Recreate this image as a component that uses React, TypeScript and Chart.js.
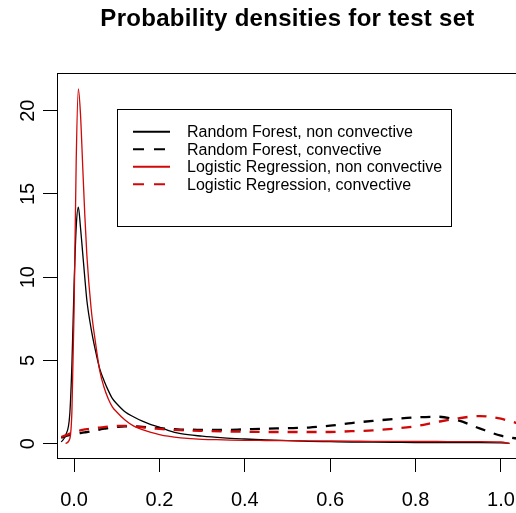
import React, { useEffect, useRef } from "react";
import { Chart, registerables } from "chart.js";

Chart.register(...registerables);

const TITLE = "Probability densities for test set";

const X_GRID = [
  -0.04, -0.03, -0.02, -0.01, -0.005, 0.0, 0.005, 0.01, 0.015, 0.02, 0.025, 0.03,
  0.04, 0.05, 0.06, 0.07, 0.08, 0.09, 0.1, 0.12, 0.14, 0.16, 0.18, 0.2, 0.22, 0.25,
  0.3, 0.35, 0.4, 0.45, 0.5, 0.55, 0.6, 0.65, 0.7, 0.75, 0.8, 0.85, 0.9, 0.95, 1.0,
  1.02, 1.04,
];

const RF_NON = [
  null, 0.1, 0.5, 1.8, 4.8, 9.5, 13.0, 14.2, 13.0, 11.5, 10.0, 8.6,
  6.9, 5.6, 4.5, 3.8, 3.2, 2.7, 2.4, 1.9, 1.6, 1.35, 1.15, 1.0, 0.8, 0.6,
  0.45, 0.35, 0.28, 0.22, 0.18, 0.14, 0.12, 0.1, 0.09, 0.08, 0.07, 0.07, 0.06, 0.06, 0.05,
  0.02, null,
];

const RF_CONV = [
  null, 0.35, 0.45, 0.52, 0.55, 0.58, 0.6, 0.62, 0.64, 0.66, 0.68, 0.7,
  0.75, 0.8, 0.85, 0.9, 0.94, 0.98, 1.01, 1.04, 1.04, 1.01, 0.97, 0.93, 0.89, 0.85,
  0.83, 0.82, 0.86, 0.9, 0.93, 0.97, 1.08, 1.24, 1.37, 1.48, 1.58, 1.62, 1.4, 0.92, 0.48,
  0.38, 0.3,
];

const LR_NON = [
  null, null, 0.02, 0.3, 2.0, 8.0, 17.0, 21.3, 19.8, 16.8, 13.8, 11.3,
  8.1, 6.1, 4.4, 3.4, 2.7, 2.2, 1.9, 1.4, 1.05, 0.85, 0.68, 0.55, 0.45, 0.35,
  0.26, 0.23, 0.2, 0.19, 0.18, 0.17, 0.16, 0.15, 0.14, 0.14, 0.13, 0.13, 0.12, 0.12, 0.1,
  0.01, null,
];

const LR_CONV = [
  null, 0.4, 0.5, 0.6, 0.65, 0.7, 0.73, 0.77, 0.8, 0.83, 0.86, 0.88,
  0.91, 0.94, 0.97, 1.0, 1.03, 1.05, 1.07, 1.07, 1.03, 0.98, 0.93, 0.89, 0.85, 0.81,
  0.77, 0.74, 0.72, 0.7, 0.7, 0.7, 0.7, 0.75, 0.8, 0.9, 1.05, 1.3, 1.52, 1.66, 1.5,
  1.36, 1.22,
];

const SERIES_LABELS = [
  "Random Forest, non convective",
  "Random Forest, convective",
  "Logistic Regression, non convective",
  "Logistic Regression, convective",
];

const X_TICKS = [0, 0.2, 0.4, 0.6, 0.8, 1.0];
const X_TICK_LABELS = ["0.0", "0.2", "0.4", "0.6", "0.8", "1.0"];
const Y_TICKS = [0, 5, 10, 15, 20];
const Y_TICK_LABELS = ["0", "5", "10", "15", "20"];

const BLACK = "#000000";
const RED = "#d00808";
const FONT = "'Liberation Sans', Arial, Helvetica, sans-serif";

function pts(ys: (number | null)[]) {
  return X_GRID.map((x, i) => ({ x, y: ys[i] }));
}

const rPlotPlugin = {
  id: "rPlot",
  afterDraw(chart: any) {
    const { ctx, chartArea } = chart;
    const { left, right, top, bottom } = chartArea;
    const xs = chart.scales.x;
    const ys = chart.scales.y;
    ctx.save();

    // box
    ctx.strokeStyle = BLACK;
    ctx.lineWidth = 1;
    ctx.setLineDash([]);
    ctx.strokeRect(Math.round(left) + 0.5, Math.round(top) + 0.5, Math.round(right - left), Math.round(bottom - top));

    // title
    ctx.fillStyle = BLACK;
    ctx.font = `bold 24px ${FONT}`;
    (ctx as any).letterSpacing = "0.3px";
    ctx.textAlign = "center";
    ctx.textBaseline = "alphabetic";
    ctx.fillText(TITLE, (left + right) / 2, 26);
    (ctx as any).letterSpacing = "0px";

    // x labels
    ctx.font = `20px ${FONT}`;
    X_TICKS.forEach((v, i) => {
      ctx.fillText(X_TICK_LABELS[i], xs.getPixelForValue(v), 506);
    });

    // y labels (rotated)
    Y_TICKS.forEach((v, i) => {
      const y = ys.getPixelForValue(v);
      ctx.save();
      ctx.translate(34, y);
      ctx.rotate(-Math.PI / 2);
      ctx.textAlign = "center";
      ctx.fillText(Y_TICK_LABELS[i], 0, 0);
      ctx.restore();
    });

    // legend
    const bx = 117.5, by = 109.5, bw = 334, bh = 117;
    ctx.fillStyle = "#ffffff";
    ctx.fillRect(bx, by, bw, bh);
    ctx.strokeStyle = BLACK;
    ctx.lineWidth = 1;
    ctx.strokeRect(bx, by, bw, bh);
    const rowY = [131.7, 149.2, 166.7, 184.2];
    ctx.font = `16px ${FONT}`;
    ctx.textAlign = "left";
    ctx.textBaseline = "middle";
    chart.data.datasets.forEach((ds: any, i: number) => {
      const y = rowY[i];
      ctx.strokeStyle = ds.borderColor;
      ctx.lineWidth = 2;
      ctx.setLineDash(ds.borderDash && ds.borderDash.length ? [11, 10] : []);
      ctx.beginPath();
      ctx.moveTo(133, y);
      ctx.lineTo(170, y);
      ctx.stroke();
      ctx.setLineDash([]);
      ctx.fillStyle = BLACK;
      ctx.fillText(ds.label, 187, y + 1);
    });

    ctx.restore();
  },
};

export default function App() {
  const ref = useRef<HTMLCanvasElement | null>(null);

  useEffect(() => {
    if (!ref.current) return;
    const mk = (i: number, ys: (number | null)[], color: string, dashed: boolean, order: number) => ({
      label: SERIES_LABELS[i],
      data: pts(ys),
      borderColor: color,
      backgroundColor: color,
      borderWidth: dashed ? 2.3 : 1.3,
      borderDash: dashed ? [10, 9] : [],
      pointRadius: 0,
      fill: false,
      cubicInterpolationMode: "monotone" as const,
      spanGaps: false,
      order,
    });
    const chart = new Chart(ref.current, {
      type: "line",
      data: {
        datasets: [
          mk(0, RF_NON, BLACK, false, 4),
          mk(1, RF_CONV, BLACK, true, 3),
          mk(2, LR_NON, RED, false, 2),
          mk(3, LR_CONV, RED, true, 1),
        ],
      },
      options: {
        animation: false,
        responsive: false,
        devicePixelRatio: 1,
        parsing: true,
        layout: { padding: { left: 0, top: 73, right: 2, bottom: 0 } },
        plugins: {
          legend: { display: false },
          title: { display: false },
          tooltip: { enabled: false },
        },
        events: [],
        scales: {
          x: {
            type: "linear",
            min: -0.04,
            max: 1.04,
            border: { display: false },
            grid: { drawOnChartArea: false, drawTicks: true, tickLength: 14, color: BLACK, lineWidth: 1 },
            ticks: { display: false, autoSkip: false },
            afterBuildTicks: (axis: any) => {
              axis.ticks = X_TICKS.map((v) => ({ value: v }));
            },
            afterFit: (axis: any) => {
              axis.height = 55;
            },
          },
          y: {
            type: "linear",
            min: -0.86,
            max: 22.26,
            border: { display: false },
            grid: { drawOnChartArea: false, drawTicks: true, tickLength: 14, color: BLACK, lineWidth: 1 },
            ticks: { display: false, autoSkip: false },
            afterBuildTicks: (axis: any) => {
              axis.ticks = Y_TICKS.map((v) => ({ value: v }));
            },
            afterFit: (axis: any) => {
              axis.width = 57;
            },
          },
        },
      },
      plugins: [rPlotPlugin],
    } as any);
    return () => chart.destroy();
  }, []);

  return (
    <div
      style={{
        position: "fixed",
        left: 0,
        top: 0,
        width: 516,
        height: 513,
        overflow: "hidden",
        background: "#ffffff",
      }}
    >
      <canvas ref={ref} width={520} height={513} style={{ display: "block", width: 520, height: 513 }} />
    </div>
  );
}
